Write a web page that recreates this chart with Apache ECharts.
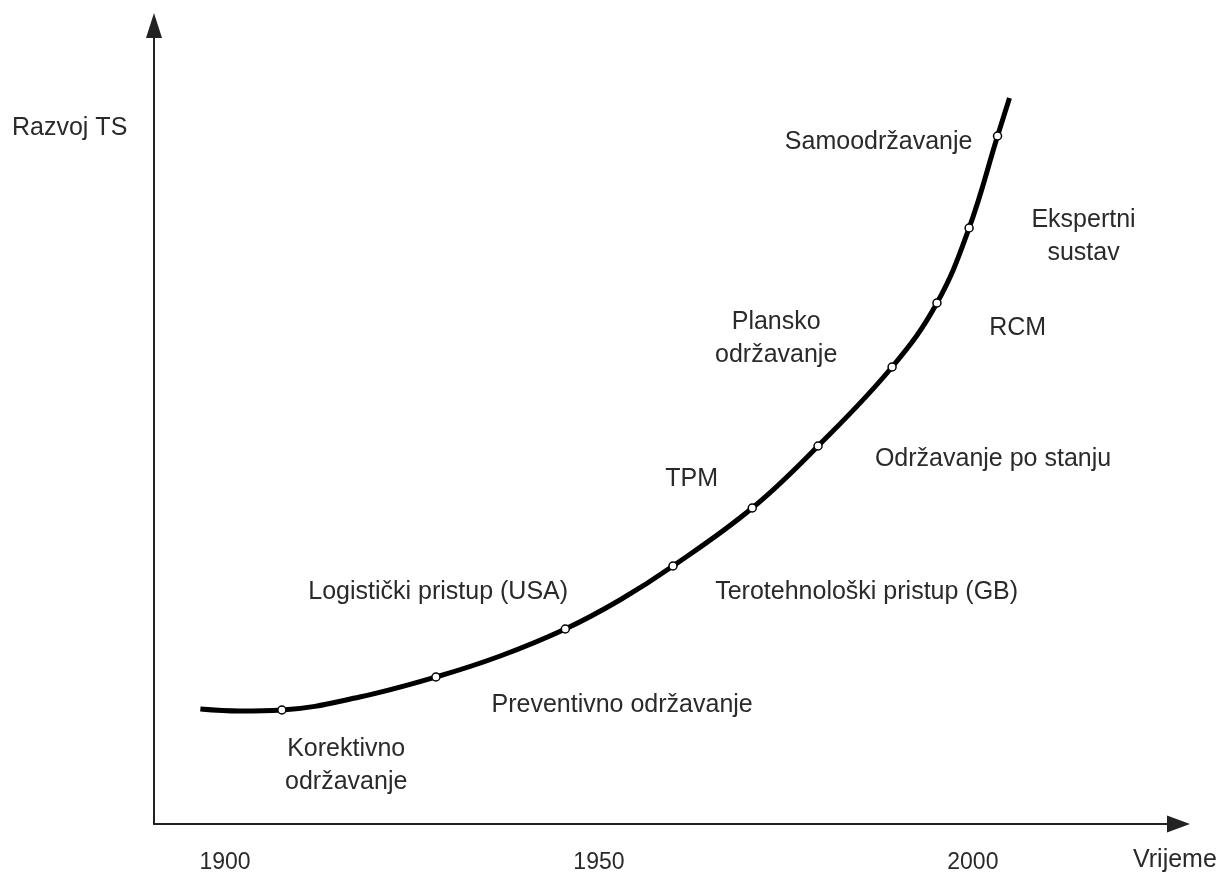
<!DOCTYPE html>
<html>
<head>
<meta charset="utf-8">
<script src="https://cdn.jsdelivr.net/npm/echarts@6/dist/echarts.min.js"></script>
<style>
  html, body { margin: 0; padding: 0; background: #fff; }
  #main { width: 1229px; height: 875px; }
</style>
</head>
<body>
<div id="main"></div>
<script>
// razvoj curve (year, level)
var curveYears = [1896.7, 1902.0, 1907.6, 1918.0, 1928.2, 1936.8, 1945.5, 1952.8, 1959.9,
  1970.5, 1979.3, 1989.2, 1995.2, 1999.5, 2003.3, 2004.9];
var curveLevels = [115, 113, 114, 127, 147, 168, 195, 224, 258,
  316, 378, 457, 521, 596, 688, 726];

// small circles on the curve
var markYears = [1907.6, 1928.2, 1945.5, 1959.9, 1970.5, 1979.3, 1989.2, 1995.2, 1999.5, 2003.3];
var markLevels = [114, 147, 195, 258, 316, 378, 457, 521, 596, 688];

// stage labels
var stageNames = ['Samoodržavanje', 'Ekspertni\nsustav', 'Plansko\nodržavanje', 'RCM', 'TPM',
  'Održavanje po stanju', 'Logistički pristup (USA)', 'Terotehnološki pristup (GB)',
  'Preventivno održavanje', 'Korektivno\nodržavanje'];
var stageYears = [1987.4, 2014.8, 1973.7, 2006.0, 1962.4, 2002.7, 1928.5, 1985.8, 1953.1, 1916.2];
var stageLevels = [682, 587, 485, 496, 345, 365, 232, 232, 119, 58];

var tickYears = [1900, 1950, 2000];

var font = "'Liberation Sans', Arial, sans-serif";
var textColor = '#2a2a2a';

var chart = echarts.init(document.getElementById('main'));

var curveData = [];
for (var i = 0; i < curveYears.length; i++) curveData.push([curveYears[i], curveLevels[i]]);
var markData = [];
for (var i = 0; i < markYears.length; i++) markData.push([markYears[i], markLevels[i]]);
var stageData = [];
for (var i = 0; i < stageNames.length; i++) {
  stageData.push({ name: stageNames[i], value: [stageYears[i], stageLevels[i]] });
}

var option = {
  animation: false,
  backgroundColor: '#fff',
  grid: { left: 154, right: 50.5, top: 25.5, bottom: 51 },
  xAxis: {
    type: 'value',
    min: 1890.5,
    max: 2027.5,
    splitLine: { show: false },
    axisTick: { show: false },
    axisLine: {
      onZero: false,
      symbol: ['none', 'triangle'],
      symbolSize: [17, 23],
      lineStyle: { color: '#222', width: 2 }
    },
    axisLabel: {
      customValues: tickYears,
      formatter: function (v) { return String(v); },
      margin: 27,
      color: textColor,
      fontSize: 23,
      fontFamily: font
    }
  },
  yAxis: {
    type: 'value',
    min: 0,
    max: 798.5,
    splitLine: { show: false },
    axisTick: { show: false },
    axisLabel: { show: false },
    axisLine: {
      show: true,
      onZero: false,
      symbol: ['none', 'triangle'],
      symbolSize: [16, 25],
      lineStyle: { color: '#222', width: 2 }
    }
  },
  graphic: [
    { type: 'text', left: 12, top: 116, style: { text: 'Razvoj TS', fill: textColor, font: '25px ' + font } },
    { type: 'text', left: 1133, top: 848, style: { text: 'Vrijeme', fill: textColor, font: '25px ' + font } }
  ],
  series: [{
    type: 'line',
    data: curveData,
    smooth: 0.4,
    showSymbol: false,
    lineStyle: { color: '#000', width: 5 },
    z: 2
  }, {
    type: 'scatter',
    data: markData,
    symbol: 'circle',
    symbolSize: 8,
    itemStyle: { color: '#fff', borderColor: '#000', borderWidth: 1.5, opacity: 1 },
    z: 3
  }, {
    type: 'scatter',
    data: stageData,
    symbolSize: 0,
    itemStyle: { opacity: 1 },
    label: {
      show: true,
      position: 'inside',
      formatter: '{b}',
      color: textColor,
      fontSize: 25,
      lineHeight: 33,
      fontFamily: font
    },
    z: 4
  }]
};
chart.setOption(option);
</script>
</body>
</html>
